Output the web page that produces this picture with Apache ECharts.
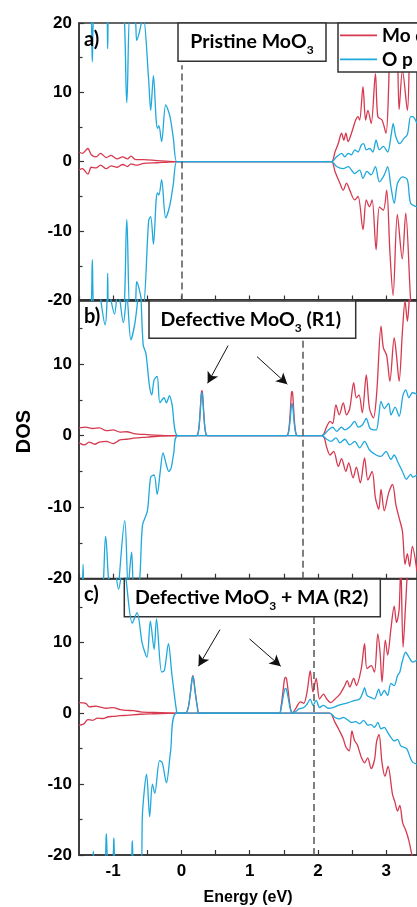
<!DOCTYPE html>
<html>
<head>
<meta charset="utf-8">
<title>DOS of MoO3</title>
<script src="https://cdn.jsdelivr.net/npm/echarts@6/dist/echarts.min.js"></script>
<style>
  html, body { margin: 0; padding: 0; background: #fff; }
  #main { width: 417px; height: 907px; }
</style>
</head>
<body>
<div id="main"></div>
<script>
"use strict";

// energy window (eV), DOS window of every panel
const xMin = -1.5, xMax = 3.45;
const yLimits = [[-20, 20], [-20, 19], [-20, 19]];
const panelTags = ['a)', 'b)', 'c)'];
// dashed line position (eV) and how high it goes (DOS)
const fermiLines = [0, 1.78, 1.94];
const fermiTop = [13.9, 13.4, 13.6];
// arrows pointing at the defect states: [from, to]
const arrowsB = [[[0.684, 12.6], [0.384, 7.33]], [[1.107, 11.05], [1.551, 7.19]]];
const arrowsC = [[[0.564, 11.78], [0.25, 6.63]], [[0.997, 10.48], [1.454, 6.63]]];

// ---- a) Pristine MoO3 ----
const aMoUp = [[-1.5,1.4],[-1.45,1.2],[-1.37,1.9],[-1.32,1.0],[-1.25,0.7],[-1.185,1.2],[-1.10,0.6],[-1.03,0.9],[-0.94,0.4],[-0.86,0.7],[-0.79,0.4],[-0.74,0.8],[-0.67,0.3],[-0.55,0.3],[-0.36,0.15],[-0.12,0.02],[0,0],[2.1,0],
  [2.20,0],[2.249,1.4],[2.298,2.65],[2.345,4.1],[2.379,3.1],[2.408,4.1],[2.442,2.9],[2.49,4.1],[2.552,6.0],[2.587,6.5],[2.61,6.0],[2.659,10.8],[2.697,6.0],[2.731,7.4],[2.779,5.5],[2.841,12.7],[2.876,6.5],[2.938,6.0],[2.996,4.1],[3.035,10.8],[3.068,22],[3.14,22],[3.188,7.5],[3.237,13.2],[3.309,7.4],[3.36,20],[3.45,24]];
const aMoDn = [[-1.5,-1.2],[-1.45,-1.0],[-1.37,-1.8],[-1.32,-0.8],[-1.25,-0.9],[-1.185,-0.5],[-1.10,-1.0],[-1.03,-0.6],[-0.94,-0.8],[-0.86,-0.4],[-0.79,-0.7],[-0.74,-0.3],[-0.67,-0.5],[-0.55,-0.25],[-0.36,-0.15],[-0.12,-0.02],[0,0],[2.1,0],
  [2.20,0],[2.249,-1.4],[2.321,-3.1],[2.37,-4.1],[2.418,-3.1],[2.465,-4.1],[2.538,-5.5],[2.587,-5.0],[2.659,-9.8],[2.707,-5.5],[2.754,-6.5],[2.793,-5.5],[2.851,-12.7],[2.899,-6.5],[2.957,-7.0],[3.006,-4.1],[3.053,-13],[3.10,-19.3],[3.162,-7.6],[3.234,-14],[3.285,-7.4],[3.357,-20],[3.386,-22],[3.45,-24]];
const aOpUp = [[-1.5,28],[-1.33,22],[-1.305,14.4],[-1.28,22],[-1.10,24],[-1.08,16.3],[-1.06,24],[-0.88,24],[-0.80,8.5],[-0.75,22],[-0.68,21],[-0.655,17.5],[-0.62,18.5],[-0.56,21],[-0.48,11.8],[-0.45,7.4],[-0.41,12.4],[-0.37,6.0],[-0.35,4.8],[-0.33,5.2],[-0.29,2.9],[-0.23,8.2],[-0.17,6.6],[-0.12,3.5],[-0.07,0],[0,0],[2.1,0],
  [2.20,0],[2.273,0.7],[2.345,1.2],[2.393,0.7],[2.442,1.2],[2.49,1.0],[2.538,1.7],[2.587,1.4],[2.634,2.4],[2.668,2.6],[2.707,1.7],[2.754,1.9],[2.803,1.4],[2.851,3.1],[2.899,1.7],[2.957,2.2],[3.02,1.4],[3.068,3.6],[3.101,5.5],[3.14,3.6],[3.198,2.6],[3.26,3.4],[3.309,3.9],[3.357,6.5],[3.386,6.5],[3.45,5.5]];
const aOpDn = [[-1.5,-28],[-1.33,-22],[-1.305,-14.1],[-1.28,-22],[-1.10,-24],[-1.08,-16.1],[-1.06,-24],[-0.88,-24],[-0.80,-8.3],[-0.75,-22],[-0.68,-21],[-0.655,-17.3],[-0.62,-18.3],[-0.56,-21],[-0.48,-8.5],[-0.45,-7.9],[-0.41,-11.9],[-0.37,-5.5],[-0.35,-4.5],[-0.33,-4.8],[-0.29,-2.6],[-0.23,-8.1],[-0.17,-6.3],[-0.12,-3.3],[-0.07,0],[0,0],[2.1,0],
  [2.20,0],[2.273,-0.7],[2.37,-1.0],[2.442,-0.7],[2.538,-1.7],[2.61,-1.2],[2.659,-2.4],[2.717,-1.4],[2.779,-1.9],[2.841,-0.7],[2.899,-2.9],[2.971,-1.9],[3.02,-0.7],[3.068,-3.6],[3.116,-6.0],[3.165,-3.1],[3.237,-2.2],[3.309,-2.6],[3.357,-6.0],[3.45,-6.5]];

// ---- b) Defective MoO3 (R1) ----
const bMoUp = [[-1.5,1.1],[-1.4,1.2],[-1.3,1.0],[-1.2,1.1],[-1.1,0.7],[-1.0,0.8],[-0.9,0.5],[-0.8,0.55],[-0.7,0.3],[-0.5,0.15],[-0.3,0.05],[-0.1,0],
  [0.22,0],[0.25,0.7],[0.27,2.7],[0.29,5.8],[0.30,6.3],[0.31,5.8],[0.33,2.7],[0.35,0.7],[0.38,0],
  [1.54,0],[1.57,0.7],[1.59,2.7],[1.61,5.8],[1.62,6.2],[1.63,5.8],[1.65,2.7],[1.67,0.7],[1.70,0],
  [2.056,0],[2.129,1.3],[2.176,2.0],[2.215,1.7],[2.263,4.3],[2.312,2.9],[2.37,4.6],[2.418,2.9],[2.465,3.8],[2.523,7.4],[2.562,5.3],[2.601,5.7],[2.649,3.2],[2.707,8.5],[2.754,3.8],[2.812,2.5],[2.86,6],[2.923,15.3],[2.957,12.3],[3.006,11.2],[3.053,7.6],[3.116,13.7],[3.15,11.2],[3.188,7.6],[3.237,14.6],[3.275,18.8],[3.309,16],[3.357,21],[3.45,24]];
const bMoDn = [[-1.5,-1.0],[-1.42,-1.3],[-1.35,-0.9],[-1.27,-1.2],[-1.2,-0.9],[-1.1,-0.8],[-1.0,-1.1],[-0.9,-0.6],[-0.8,-0.5],[-0.7,-0.35],[-0.5,-0.2],[-0.3,-0.05],[-0.1,0],
  [2.056,0],[2.129,-1.7],[2.176,-2.7],[2.23,-2.2],[2.298,-4.3],[2.345,-3.2],[2.408,-5.0],[2.45,-3.8],[2.514,-5.9],[2.562,-4.4],[2.62,-6.6],[2.682,-3.1],[2.731,-6.2],[2.793,-5.0],[2.841,-8.7],[2.89,-10.3],[2.923,-7.5],[2.971,-10.5],[3.035,-8.0],[3.092,-6.8],[3.14,-9.6],[3.188,-11.5],[3.237,-13.4],[3.275,-18],[3.309,-16.5],[3.343,-18.3],[3.382,-15.5],[3.45,-19]];
const bOpUp = [[-1.5,25],[-1.25,22],[-1.116,15.5],[-1.07,20.5],[-0.98,17],[-0.93,20.5],[-0.85,15.8],[-0.80,19.5],[-0.74,13.4],[-0.68,15.8],[-0.61,21],[-0.56,12.7],[-0.52,11.5],[-0.47,7.1],[-0.435,5.7],[-0.40,7.8],[-0.355,8.3],[-0.315,4.6],[-0.255,5.3],[-0.22,4.6],[-0.175,5.6],[-0.14,4.5],[-0.05,0],
  [0.22,0],[0.25,0.6],[0.27,2.6],[0.29,5.5],[0.30,6.0],[0.31,5.5],[0.33,2.6],[0.35,0.6],[0.38,0],
  [1.54,0],[1.57,0.5],[1.59,2.0],[1.61,4.1],[1.62,4.5],[1.63,4.1],[1.65,2.0],[1.67,0.5],[1.70,0],
  [2.056,0],[2.153,0.8],[2.215,1.2],[2.273,0.6],[2.345,1.2],[2.393,0.8],[2.465,1.2],[2.538,2.0],[2.587,1.2],[2.649,1.5],[2.707,2.4],[2.764,1.0],[2.851,0.8],[2.89,2.7],[2.923,4.8],[2.971,3.8],[3.035,4.5],[3.068,2.9],[3.13,4.0],[3.188,2.7],[3.246,5.7],[3.285,6.4],[3.332,5.3],[3.382,6.0],[3.45,5.8]];
const bOpDn = [[-1.5,-26],[-1.46,-25],[-1.44,-18],[-1.42,-24],[-1.2,-24],[-1.11,-14.1],[-1.06,-21],[-0.98,-25],[-0.83,-11.9],[-0.78,-21],[-0.73,-16.3],[-0.69,-22],[-0.62,-21],[-0.57,-12.5],[-0.50,-10.6],[-0.45,-5.8],[-0.40,-5.5],[-0.355,-8.2],[-0.31,-5.0],[-0.27,-2.4],[-0.22,-4.1],[-0.185,-5.0],[-0.15,-4.5],[-0.115,-2.6],[-0.05,0],[1.9,0],
  [2.056,0],[2.129,-0.5],[2.19,-0.8],[2.263,-0.3],[2.32,-1.0],[2.393,-0.5],[2.465,-1.3],[2.538,-0.8],[2.61,-1.7],[2.682,-0.8],[2.754,-2.0],[2.851,-2.7],[2.923,-2.9],[2.996,-2.2],[3.068,-3.3],[3.116,-2.7],[3.165,-3.6],[3.237,-5.0],[3.295,-6.1],[3.357,-5.4],[3.386,-5.8],[3.45,-5.5]];

// ---- c) Defective MoO3 + MA (R2) ----
const cMoUp = [[-1.5,1.5],[-1.4,1.4],[-1.35,0.9],[-1.25,1.0],[-1.2,0.9],[-1.1,0.7],[-1.0,0.8],[-0.9,0.5],[-0.8,0.4],[-0.7,0.35],[-0.6,0.2],[-0.4,0.1],[-0.2,0.03],[-0.05,0],
  [0.06,0],[0.10,0.8],[0.13,2.8],[0.155,4.8],[0.168,5.3],[0.18,4.8],[0.205,2.8],[0.235,0.8],[0.26,0],
  [1.43,0],[1.46,1.0],[1.49,3.3],[1.51,4.8],[1.526,5.1],[1.54,4.8],[1.565,3.0],[1.595,0.8],[1.623,0],
  [1.671,0.6],[1.743,1.6],[1.792,1.4],[1.84,3.0],[1.887,6.0],[1.926,3.0],[1.974,4.9],[2.023,2.0],[2.081,2.7],[2.129,2.0],[2.186,1.5],[2.249,2.0],[2.321,2.7],[2.393,3.9],[2.428,4.6],[2.465,3.7],[2.523,4.9],[2.562,3.9],[2.634,6.3],[2.682,9.8],[2.717,6.3],[2.779,6.7],[2.827,5.8],[2.876,11.2],[2.909,8.6],[2.938,4.4],[2.986,10.3],[3.02,8.2],[3.068,11.9],[3.116,15.1],[3.15,12.8],[3.188,14.6],[3.212,21],[3.246,9.3],[3.285,15.6],[3.324,21],[3.386,22],[3.45,24]];
const cMoDn = [[-1.5,-1.7],[-1.43,-1.5],[-1.37,-0.9],[-1.30,-1.0],[-1.23,-0.7],[-1.15,-0.75],[-1.07,-0.5],[-1.0,-0.45],[-0.9,-0.35],[-0.8,-0.3],[-0.6,-0.15],[-0.4,-0.08],[-0.2,-0.02],[-0.05,0],[2.0,0],
  [2.172,0],[2.249,-1.3],[2.316,-2.5],[2.37,-3.6],[2.41,-4.8],[2.457,-5.3],[2.497,-2.5],[2.533,-3.8],[2.577,-4.5],[2.634,-6.2],[2.682,-7.0],[2.728,-6.3],[2.779,-7.8],[2.829,-6.5],[2.858,-4.0],[2.894,-3.0],[2.938,-7.0],[2.981,-8.9],[3.025,-7.5],[3.092,-11.5],[3.126,-12.5],[3.165,-13.8],[3.198,-13.0],[3.241,-15.5],[3.285,-16.5],[3.332,-18],[3.386,-20.5],[3.45,-23]];
const cOpUp = [[-1.5,25],[-1.2,23],[-1.06,19.0],[-1.0,22],[-0.92,17.5],[-0.85,21],[-0.72,12.7],[-0.65,14.2],[-0.575,9.9],[-0.505,7.9],[-0.455,13.0],[-0.40,9.0],[-0.365,13.3],[-0.29,5.8],[-0.25,6.0],[-0.19,9.8],[-0.14,5.5],[-0.07,0.2],[-0.05,0],
  [0.06,0],[0.10,0.8],[0.13,2.7],[0.155,4.7],[0.168,5.2],[0.18,4.7],[0.205,2.7],[0.235,0.8],[0.26,0],
  [1.43,0],[1.46,0.7],[1.49,2.3],[1.51,3.3],[1.526,3.5],[1.54,3.3],[1.565,2.1],[1.595,0.6],[1.623,0.1],
  [1.671,0.2],[1.72,0.6],[1.792,0.8],[1.84,1.3],[1.887,2.0],[1.926,1.1],[1.974,1.8],[2.023,0.8],[2.081,1.1],[2.15,0.7],[2.22,0.8],[2.298,1.1],[2.37,1.3],[2.442,1.5],[2.538,1.8],[2.61,2.0],[2.659,3.0],[2.682,3.6],[2.717,2.5],[2.779,2.2],[2.827,2.0],[2.89,3.4],[2.923,2.5],[2.971,3.2],[3.02,2.5],[3.068,4.2],[3.116,3.9],[3.165,5.3],[3.198,5.8],[3.237,7.4],[3.285,8.6],[3.332,7.9],[3.386,7.2],[3.45,7.5]];
const cOpDn = [[-1.5,-24],[-1.3,-21.5],[-1.29,-19.5],[-1.27,-22],[-1.12,-21],[-1.10,-17.0],[-1.07,-21],[-1.0,-20.5],[-0.99,-17.6],[-0.96,-21],[-0.74,-21],[-0.72,-18],[-0.70,-21],[-0.59,-21.5],[-0.57,-14],[-0.51,-8.6],[-0.465,-14.6],[-0.425,-10.0],[-0.39,-11.3],[-0.32,-6.7],[-0.28,-7.0],[-0.22,-9.8],[-0.16,-5.5],[-0.07,0],[2.0,0],
  [2.172,0],[2.249,-0.6],[2.321,-0.8],[2.37,-0.6],[2.442,-1.0],[2.49,-1.3],[2.55,-1.2],[2.61,-1.5],[2.668,-1.0],[2.731,-1.7],[2.779,-1.6],[2.827,-2.0],[2.876,-1.3],[2.923,-2.2],[2.971,-2.0],[3.02,-2.7],[3.068,-3.4],[3.116,-3.9],[3.165,-3.7],[3.212,-4.6],[3.26,-4.8],[3.30,-5.0],[3.357,-6.4],[3.386,-6.9],[3.45,-7.2]];

const panels = [
  [aMoUp, aMoDn, aOpUp, aOpDn],
  [bMoUp, bMoDn, bOpUp, bOpDn],
  [cMoUp, cMoDn, cOpUp, cOpDn]
];

const red = '#d6394f';
const blue = '#1ea8dc';
const ink = '#333';
const tickFont = {fontFamily: 'Liberation Sans', fontWeight: 'bold', fontSize: 17, color: '#000'};
const boxFont = 'Lato';

// plot areas (pixels)
const grids = [
  {left: 79, top: 22.9, width: 342.5, height: 277.6},
  {left: 79, top: 299.8, width: 342.5, height: 278.9},
  {left: 79, top: 578.5, width: 342.5, height: 278.1}
];

function curve(name, data, idx, color) {
  return {
    name: name, type: 'line', xAxisIndex: idx, yAxisIndex: idx,
    data: data, showSymbol: false, smooth: 0.3, clip: true, silent: true,
    lineStyle: {color: color, width: 1.3}, itemStyle: {color: color},
    z: name === 'O p' ? 3 : 2
  };
}

let series = [];
panels.forEach(function (p, i) {
  let moUp = curve('Mo d', p[0], i, red);
  moUp.markLine = {
    silent: true, symbol: ['none', 'none'], label: {show: false},
    lineStyle: {color: '#555', type: [7, 4], width: 1.5},
    data: [[{coord: [fermiLines[i], yLimits[i][0]]}, {coord: [fermiLines[i], fermiTop[i]]}]]
  };
  series.push(moUp);
  series.push(curve('Mo d', p[1], i, red));
  let opUp = curve('O p', p[2], i, blue);
  let arrows = i === 1 ? arrowsB : (i === 2 ? arrowsC : []);
  if (arrows.length) {
    opUp.markLine = {
      silent: true, symbol: ['none', 'arrow'], symbolSize: [9, 11], label: {show: false},
      lineStyle: {color: '#111', type: 'solid', width: 1},
      data: arrows.map(function (a) { return [{coord: a[0]}, {coord: a[1]}]; })
    };
  }
  series.push(opUp);
  series.push(curve('O p', p[3], i, blue));
});

const xAxes = [0, 1, 2].map(function (i) {
  return {
    type: 'value', gridIndex: i, min: xMin, max: xMax, interval: 0.5,
    axisLine: {show: true, onZero: false, lineStyle: {color: ink, width: 1.5}},
    axisTick: {show: true, inside: true, length: 5, lineStyle: {color: ink, width: 1.2}},
    splitLine: {show: false},
    axisLabel: {
      show: i === 2, margin: 8, showMinLabel: false, showMaxLabel: false,
      formatter: function (v) { return Number.isInteger(v) ? String(v) : ''; },
      ...tickFont
    },
    name: i === 2 ? 'Energy (eV)' : '', nameLocation: 'middle', nameGap: 35,
    nameTextStyle: {fontFamily: 'Liberation Sans', fontWeight: 'bold', fontSize: 16, color: '#000'}
  };
});

const yAxes = [0, 1, 2].map(function (i) {
  return {
    type: 'value', gridIndex: i, min: yLimits[i][0], max: yLimits[i][1], interval: 10,
    axisLine: {show: true, onZero: false, lineStyle: {color: ink, width: 1.5}},
    axisTick: {show: true, inside: true, length: 5, lineStyle: {color: ink, width: 1.2}},
    minorTick: {show: true, splitNumber: 2, length: 3.5, lineStyle: {color: ink, width: 1.2}},
    splitLine: {show: false},
    axisLabel: Object.assign({margin: 7, showMaxLabel: i === 0}, tickFont)
  };
});

// boxed titles
function titleBox(x, y, w, h, cx, cy, text) {
  return {
    type: 'group', z: 100,
    children: [
      {type: 'rect', shape: {x: x, y: y, width: w, height: h},
       style: {fill: '#fff', stroke: ink, lineWidth: 1.5}},
      {type: 'text', x: cx, y: cy,
       style: {
         text: text, align: 'center', verticalAlign: 'middle',
         rich: {
           n: {fontFamily: boxFont, fontWeight: 'bold', fontSize: 19.5, fill: '#000'},
           s: {fontFamily: boxFont, fontWeight: 'bold', fontSize: 12, fill: '#000', padding: [17, 0, 0, 0]}
         }
       }}
    ]
  };
}

const graphics = [
  titleBox(178, 22.9, 148, 38.3, 252, 41.7, '{n|Pristine MoO}{s|3}'),
  titleBox(149, 299.8, 206.7, 38.5, 250.8, 319.7, '{n|Defective MoO}{s|3}{n| (R1)}'),
  titleBox(124.3, 578.5, 256, 38.2, 251.7, 597.6, '{n|Defective MoO}{s|3}{n| + MA (R2)}'),
  {type: 'text', x: 24.5, y: 431.5, rotation: Math.PI / 2, z: 100,
   style: {text: 'DOS', align: 'center', verticalAlign: 'middle',
           font: 'bold 20px "Liberation Sans"', fill: '#000'}}
];
[39.2, 316.5, 594.5].forEach(function (y, i) {
  graphics.push({type: 'text', x: 84, y: y, z: 100,
    style: {text: panelTags[i], align: 'left', verticalAlign: 'middle',
            font: 'bold 20px ' + boxFont, fill: '#000'}});
});

const myChart = echarts.init(document.getElementById('main'));
const option = {
  animation: false,
  backgroundColor: '#fff',
  grid: grids.map(function (g) {
    return Object.assign({show: true, borderColor: ink, borderWidth: 1.5, backgroundColor: 'transparent'}, g);
  }),
  xAxis: xAxes,
  yAxis: yAxes,
  legend: {
    data: ['Mo d', 'O p'], left: 338, top: 22.9, orient: 'vertical', selectedMode: false,
    icon: 'rect', itemWidth: 37, itemHeight: 1.6, itemGap: 3,
    padding: [2, 40, 2, 2], borderColor: ink, borderWidth: 1.5, backgroundColor: '#fff',
    textStyle: {fontFamily: boxFont, fontWeight: 'bold', fontSize: 19, lineHeight: 21, color: '#000'}
  },
  graphic: graphics,
  series: series
};
myChart.setOption(option);
</script>
</body>
</html>
